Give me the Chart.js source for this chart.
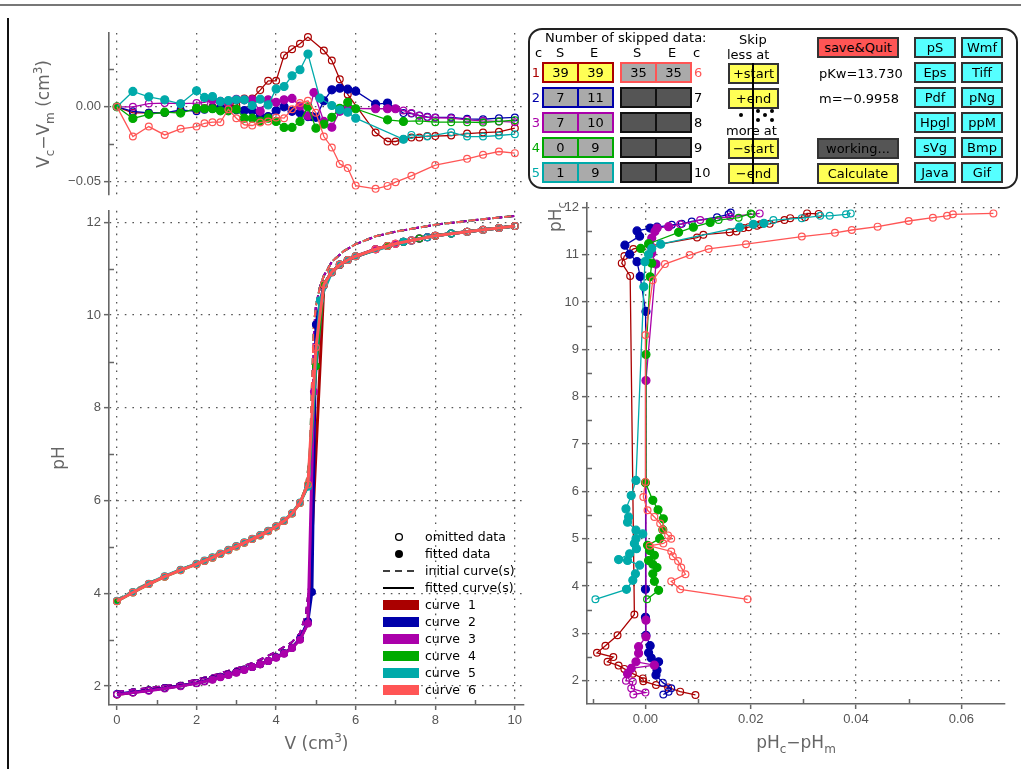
<!DOCTYPE html>
<html>
<head>
<meta charset="utf-8">
<title>Titration fit</title>
<script src="https://cdn.jsdelivr.net/npm/chart.js@4.4.1/dist/chart.umd.min.js"></script>
<style>
  html, body { margin: 0; padding: 0; background: #fff; }
  body { position: relative; width: 1021px; height: 769px; overflow: hidden; font-family: 'DejaVu Sans', sans-serif; }
  canvas { position: absolute; }
  .frame-top { position: absolute; left: 0; top: 4px; width: 1021px; border-top: 2px solid #777; }
  .frame-left { position: absolute; left: 7px; top: 18px; height: 760px; border-left: 2px solid #111; }
  .panel { position: absolute; left: 528px; top: 28px; width: 490px; height: 161px; box-sizing: border-box;
           border: 2px solid #222; border-radius: 14px; }
  .t { position: absolute; font-size: 13px; color: #000; white-space: nowrap; line-height: 1; }
  .btn { position: absolute; box-sizing: border-box; border: 2px solid #333; height: 21px; font-size: 13px;
         text-align: center; line-height: 17px; color: #000; white-space: nowrap; }
  .pair { position: absolute; box-sizing: border-box; border: 2px solid; height: 21px; width: 72px; display: flex; }
  .pair span { flex: 1; text-align: center; font-size: 13px; line-height: 17px; color: #000; }
  .pair span + span { border-left: 2px solid; border-left-color: inherit; }
  .dot { position: absolute; width: 4px; height: 4px; border-radius: 2px; background: #000; }
</style>
</head>
<body>
<div class="frame-top"></div>
<div class="frame-left"></div>
<canvas id="resChart" width="540" height="195" style="left:0;top:15px"></canvas>
<canvas id="mainChart" width="540" height="569" style="left:0;top:200px"></canvas>
<canvas id="devChart" width="481" height="579" style="left:540px;top:190px"></canvas>
<div class="panel"></div>

<script>
// ---- data -----------------------------------------------------------------
const curveLabels = ['curve  1', 'curve  2', 'curve  3', 'curve  4', 'curve  5', 'curve  6'];
const curveColors = ['#aa0000', '#0000aa', '#aa00aa', '#00aa00', '#00aaaa', '#ff5555'];
const skipStart = [39, 7, 7, 0, 1, 35];
const skipEnd = [39, 11, 10, 9, 9, 35];

// titrant volume (cm3) of the measured points
const volume = [0, 0.4, 0.8, 1.2, 1.6, 2.0, 2.2, 2.4, 2.6, 2.8, 3.0, 3.2, 3.4, 3.6, 3.8, 4.0, 4.2, 4.4, 4.6, 4.8,
  4.9, 4.95, 5.0, 5.1,
  5.2, 5.4, 5.6, 5.8, 6.0, 6.5, 6.8, 7.0, 7.2, 7.4, 7.6, 7.8, 8.0, 8.4, 8.8, 9.2, 9.6, 10.0];

// measured pH per curve (null = no point at that volume)
const pH1 = [1.82, 1.86, 1.91, 1.96, 2.01, 2.07, 2.11, 2.15, 2.20, 2.25, 2.30, 2.36, 2.41, 2.47, 2.54, 2.62, 2.71, 2.83, 3.01, 3.37,
  null, null, null, null,
  10.64, 10.92, 11.08, 11.19, null, 11.42, 11.49, 11.54, 11.58, 11.61, 11.65, 11.68, 11.71, 11.76, 11.80, 11.84, 11.88, 11.92];
const pH2 = [1.83, 1.87, 1.91, 1.96, 2.01, 2.07, 2.11, 2.15, 2.20, 2.25, 2.30, 2.36, 2.41, 2.47, 2.54, 2.62, 2.71, 2.83, 3.02, 3.40,
  4.03, null, 9.80, null,
  10.66, 10.93, 11.09, 11.19, 11.27, 11.42, 11.49, null, 11.58, 11.61, 11.65, 11.68, 11.71, 11.76, 11.80, 11.84, 11.88, 11.92];
const pH3 = [1.82, 1.86, 1.90, 1.95, 2.00, 2.06, 2.10, 2.14, 2.19, 2.24, 2.29, 2.35, 2.41, 2.47, 2.54, 2.61, 2.70, 2.82, 3.00, 3.35,
  null, 8.35, null, null,
  10.66, 10.93, 11.09, 11.19, null, 11.42, 11.49, 11.54, 11.58, 11.61, 11.65, 11.68, 11.71, 11.76, 11.80, 11.84, 11.88, 11.92];
const pH4 = [3.83, 4.02, 4.20, 4.36, 4.50, 4.63, 4.70, 4.77, 4.85, 4.93, 5.01, 5.09, 5.17, 5.25, 5.34, 5.44, 5.56, 5.72, 5.95, 6.33,
  null, null, 8.90, null,
  10.66, 10.93, 11.09, 11.19, 11.27, null, 11.49, null, 11.58, null, 11.65, null, 11.71, 11.76, 11.80, 11.84, 11.88, 11.92];
const pH5 = [3.84, 4.03, 4.21, 4.37, 4.51, 4.64, 4.71, 4.78, 4.86, 4.94, 5.02, 5.10, 5.18, 5.26, 5.35, 5.45, 5.57, 5.73, 5.96, 6.30,
  null, null, null, 10.32,
  null, 10.93, 11.09, 11.19, 11.27, null, null, null, 11.58, 11.61, null, 11.68, null, 11.76, 11.80, 11.84, 11.88, 11.92];
const pH6 = [3.83, 4.02, 4.20, 4.36, 4.50, 4.63, 4.70, 4.77, 4.85, 4.93, 5.01, 5.09, 5.17, 5.25, 5.34, 5.44, 5.56, 5.72, 5.95, 6.35,
  null, null, 9.30, null,
  10.66, 10.93, 11.09, 11.19, 11.27, 11.42, 11.49, 11.54, null, 11.61, null, null, 11.71, null, 11.80, 11.84, 11.88, 11.92];

// volume residuals Vc - Vm (cm3)
const dV1 = [0, -0.004, -0.004, -0.004, -0.003, -0.002, -0.001, 0.000, 0.000, 0.001, 0.001, 0.0056, 0.0056, 0.0112, 0.0174, 0.0174, 0.0344, 0.0386, 0.0422, 0.0467,
  null, null, null, null,
  0.0377, 0.0310, 0.0185, 0.0083, null, -0.0172, -0.0232, -0.0232, -0.0217, -0.0205, -0.0205, -0.0196, -0.0196, -0.0192, -0.0179, -0.0172, -0.0167, -0.0143];
const dV2 = [0, -0.003, -0.004, -0.004, -0.002, -0.003, -0.002, -0.001, -0.001, -0.0013, -0.002, -0.0025, -0.0027, -0.006, -0.0065, -0.0027, 0.000, -0.003, -0.004, -0.0065,
  -0.0065, null, -0.007, null,
  0.0040, 0.0114, 0.0125, 0.0118, 0.0105, 0.0018, 0.0025, null, -0.0042, -0.0045, -0.0058, -0.0067, -0.0071, -0.0071, -0.0080, -0.0083, -0.0076, -0.0071];
const dV3 = [0, 0.000, 0.0022, 0.0025, 0.0022, 0.0025, 0.003, 0.0045, 0.0036, 0.003, 0.005, 0.0047, 0.0047, -0.003, 0.0047, 0.003, 0.0047, 0.0056, 0.0005, -0.006,
  null, 0.0096, null, null,
  -0.0098, -0.0136, -0.003, -0.001, null, -0.0013, -0.0013, -0.0013, -0.0025, -0.0042, -0.006, -0.007, -0.0073, -0.0076, -0.0087, -0.0094, -0.0098, -0.0103];
const dV4 = [0, -0.0078, -0.005, -0.0036, -0.0042, -0.001, -0.0013, -0.0013, -0.0027, -0.0027, -0.0016, -0.0076, -0.0076, -0.0096, -0.0076, -0.0098, -0.0138, -0.0138, -0.0098, 0.000,
  null, null, -0.0143, null,
  -0.0116, -0.007, -0.001, 0.003, -0.0013, null, -0.0087, null, -0.0098, null, -0.0094, null, -0.0103, -0.0103, -0.0103, -0.0105, -0.0098, -0.0089];
const dV5 = [0, 0.0103, 0.0067, 0.0047, 0.002, 0.0107, 0.0063, 0.0069, 0.0036, 0.0042, 0.0047, 0.0047, 0.0009, 0.0051, 0.0013, 0.012, 0.0136, 0.0208, 0.0248, 0.0353,
  null, null, null, 0.0058,
  null, 0.0009, -0.002, -0.0036, -0.0076, null, null, null, -0.0217, -0.0188, null, -0.0199, null, -0.017, -0.0199, -0.0199, -0.0192, -0.0183];
const dV6 = [0, -0.0199, -0.0132, -0.0188, -0.0147, -0.0132, -0.011, -0.0103, -0.0103, -0.0016, -0.0076, -0.012, -0.0125, -0.0105, -0.0098, -0.0071, -0.0076, -0.0016, 0.0025, 0.004,
  null, null, -0.004, null,
  -0.0199, -0.0272, -0.0382, -0.041, -0.0527, -0.0549, -0.0529, -0.0504, null, -0.0462, null, null, -0.039, null, -0.0348, -0.0321, -0.0299, -0.031];

// initial (unfitted) model curves
const initVolume = [0, 0.5, 1, 1.5, 2, 2.5, 3, 3.5, 4, 4.4, 4.6, 4.75, 4.85, 4.9, 4.95, 5.0, 5.1, 5.2, 5.4, 5.7, 6, 6.5, 7, 8, 9, 10];
const initStrong = [1.88, 1.93, 1.98, 2.04, 2.14, 2.25, 2.38, 2.53, 2.74, 2.95, 3.14, 3.55, 4.3, 6.5, 9.6, 10.2, 10.6, 10.85, 11.15, 11.38, 11.53, 11.7, 11.8, 11.95, 12.05, 12.14];
const initWeak = [3.86, 4.1, 4.3, 4.48, 4.65, 4.84, 5.03, 5.23, 5.46, 5.74, 5.97, 6.3, 7.0, 8.5, 9.8, 10.2, 10.6, 10.85, 11.15, 11.38, 11.53, 11.7, 11.8, 11.95, 12.05, 12.14];

// pH residuals pHc - pHm against calculated pH
const dev1 = [0.0095, 0.0066, 0.0043, 0.0020, -0.0004, -0.0005, -0.0024, -0.0040, -0.0051, -0.0072, -0.0061, -0.0092, -0.0076, -0.0053, -0.0021,
  -0.0029, -0.0045, -0.0040, -0.0023, 0.0098, 0.0110, 0.0160, 0.0173, 0.0186, 0.0196, 0.0212, 0.0218, 0.0236, 0.0264, 0.0275, 0.0303, 0.0307, 0.0329];
const pHc1 = [1.70, 1.77, 1.86, 1.91, 1.99, 2.05, 2.15, 2.25, 2.32, 2.40, 2.50, 2.59, 2.74, 2.96, 3.40,
  10.55, 10.82, 10.97, 11.12, 11.36, 11.42, 11.47, 11.49, 11.56, 11.58, 11.61, 11.64, 11.65, 11.73, 11.77, 11.79, 11.87, 11.86];
const dev2 = [0.0034, 0.0044, 0.0049, 0.0033, 0.0020, 0.0022, 0.0025, 0.0011, 0.0006, 0.0009, 0.0001, 0.0000, 0.0000,
  0.0001, -0.0010, -0.0016, -0.0030, -0.0039, -0.0011, -0.0016, 0.0009, 0.0022, 0.0050, 0.0069, 0.0088, 0.0136, 0.0158, 0.0162];
const pHc2 = [1.71, 1.77, 1.84, 1.96, 2.12, 2.22, 2.40, 2.48, 2.59, 2.74, 2.96, 3.34, 3.93,
  9.80, 10.54, 10.85, 11.01, 11.20, 11.39, 11.50, 11.56, 11.58, 11.63, 11.65, 11.70, 11.79, 11.85, 11.89];
const dev3 = [-0.0023, 0.0000, -0.0027, -0.0024, -0.0037, -0.0034, -0.0027, 0.0017, -0.0018, -0.0013, -0.0013, 0.0001, 0.0001,
  0.0001, 0.0020, 0.0012, 0.0009, 0.0012, 0.0018, 0.0022, 0.0044, 0.0066, 0.0104, 0.0161, 0.0217];
const pHc3 = [1.71, 1.75, 1.84, 1.98, 2.00, 2.15, 2.26, 2.33, 2.40, 2.58, 2.72, 2.93, 3.28,
  8.34, 10.80, 11.03, 11.20, 11.35, 11.49, 11.56, 11.59, 11.64, 11.73, 11.80, 11.87];
const dev4 = [0.0003, 0.0025, 0.0017, 0.0014, 0.0022, 0.0014, 0.0006, 0.0017, 0.0008, 0.0004, 0.0027, 0.0033, 0.0034, 0.0024, 0.0014, 0.0000,
  0.0001, 0.0009, 0.0012, -0.0009, 0.0006, 0.0063, 0.0091, 0.0123, 0.0139, 0.0177, 0.0200, 0.0202];
const pHc4 = [3.72, 3.91, 4.10, 4.26, 4.39, 4.46, 4.54, 4.65, 4.75, 4.86, 5.00, 5.19, 5.42, 5.61, 5.81, 6.18,
  8.89, 10.53, 10.82, 11.13, 11.23, 11.47, 11.58, 11.68, 11.73, 11.78, 11.87, 11.85];
const dev5 = [-0.0095, -0.0036, -0.0024, -0.0019, -0.0011, -0.0034, -0.0051, -0.0030, -0.0017, -0.0021, -0.0018, -0.0005, -0.0018, -0.0034, -0.0032, -0.0037, -0.0027, -0.0018,
  -0.0003, -0.0001, 0.0006, 0.0012, 0.0029, 0.0179, 0.0205, 0.0225, 0.0243, 0.0297, 0.0332, 0.0350, 0.0381, 0.0390];
const pHc5 = [3.72, 3.93, 4.12, 4.26, 4.44, 4.54, 4.56, 4.68, 4.79, 4.90, 5.00, 5.10, 5.18, 5.35, 5.46, 5.63, 5.91, 6.23,
  10.32, 10.85, 11.00, 11.13, 11.22, 11.58, 11.64, 11.66, 11.73, 11.77, 11.82, 11.82, 11.85, 11.87];
const dev6 = [0.0194, 0.0066, 0.0049, 0.0076, 0.0068, 0.0062, 0.0052, 0.0049, 0.0008, 0.0034, 0.0049, 0.0043, 0.0033, 0.0028, 0.0017, 0.0004, -0.0004, 0.0000,
  0.0000, 0.0014, 0.0037, 0.0084, 0.0120, 0.0191, 0.0297, 0.0360, 0.0392, 0.0441, 0.0500, 0.0546, 0.0573, 0.0584, 0.0661];
const pHc6 = [3.72, 3.93, 4.10, 4.25, 4.39, 4.53, 4.63, 4.73, 4.85, 4.90, 5.00, 5.07, 5.19, 5.32, 5.46, 5.60, 5.88, 6.20,
  9.30, 10.46, 10.80, 10.99, 11.12, 11.22, 11.38, 11.46, 11.52, 11.59, 11.71, 11.78, 11.82, 11.85, 11.87];

// axis ticks
const volumeTicks = [0, 2, 4, 6, 8, 10];
const volumeMinor = [1, 3, 5, 7, 9];
const pHTicks = [2, 4, 6, 8, 10, 12];
const pHMinor = [3, 5, 7, 9, 11];
const resTicks = [-0.05, 0];
const resMinor = [-0.025, 0.025];
const devTicks = [0, 0.02, 0.04, 0.06];
const devMinor = [-0.01, 0.01, 0.03, 0.05];
const pHcTicks = [2, 3, 4, 5, 6, 7, 8, 9, 10, 11, 12];
const pHcMinor = [2.5, 3.5, 4.5, 5.5, 6.5, 7.5, 8.5, 9.5, 10.5, 11.5];

// control panel
const cellColors = { selected: '#ffff55', used: '#aaaaaa', empty: '#555555' };
const skipButtons = ['+start', '+end', '−start', '−end'];
const exportButtons = [['pS', 'Wmf'], ['Eps', 'Tiff'], ['Pdf', 'pNg'], ['Hpgl', 'ppM'], ['sVg', 'Bmp'], ['Java', 'Gif']];
const pKw = '13.730';
const slope = '−0.9958';

// ---- helpers --------------------------------------------------------------
const pHs = [pH1, pH2, pH3, pH4, pH5, pH6];
const dVs = [dV1, dV2, dV3, dV4, dV5, dV6];
const devs = [dev1, dev2, dev3, dev4, dev5, dev6];
const pHcs = [pHc1, pHc2, pHc3, pHc4, pHc5, pHc6];

const isOmitted = (k, i) => i < skipStart[k] || i >= volume.length - skipEnd[k];

// pH span covered by the fitted points of a curve
function fittedRange(k) {
  let lo = Infinity, hi = -Infinity;
  pHs[k].forEach((p, i) => {
    if (p == null || isOmitted(k, i)) return;
    lo = Math.min(lo, p); hi = Math.max(hi, p);
  });
  return [lo - 0.1, hi + 0.1];
}

function pointsFrom(xs, ys, k) {
  const out = [];
  xs.forEach((x, i) => {
    if (ys[i] == null) return;
    out.push({ x: x, y: ys[i], fit: !isOmitted(k, i) });
  });
  return out;
}

const tickFont = { family: "'Liberation Sans', sans-serif", size: 13 };
const axisColor = '#666';
const gridColor = '#555';
const labelColor = '#555';
const titleFont = "17px 'DejaVu Sans', sans-serif";
const titleSmall = "12px 'DejaVu Sans', sans-serif";

function axis(o) {
  return {
    type: 'linear',
    min: o.min,
    max: o.max,
    afterBuildTicks: s => { s.ticks = o.ticks.map(v => ({ value: v })); },
    afterFit: s => { if (o.vertical) s.width = o.size; else s.height = o.size; },
    grid: {
      drawTicks: o.labels !== false,
      color: gridColor, lineWidth: 1.3,
      tickLength: 5, tickColor: axisColor, tickWidth: 1.5
    },
    border: { display: o.border !== false, color: axisColor, width: 1.6, dash: [1.6, 6] },
    ticks: {
      display: o.labels !== false, autoSkip: false, maxRotation: 0,
      color: labelColor, font: tickFont, padding: 3,
      callback: o.fmt || (v => String(v))
    }
  };
}

const pointStyle = color => ({
  borderColor: color,
  pointBorderColor: color,
  pointBackgroundColor: c => (c.raw && c.raw.fit ? color : 'rgba(255,255,255,0)'),
  pointRadius: c => (c.raw && c.raw.fit ? 4 : 3.4),
  pointBorderWidth: 1.2
});

// minor tick marks drawn inward from the axis lines
function minorTicks(xs, ys) {
  return {
    id: 'minorTicks',
    afterDraw(chart) {
      const { ctx, chartArea: a, scales } = chart;
      ctx.save();
      ctx.strokeStyle = axisColor;
      ctx.lineWidth = 1.5;
      ctx.beginPath();
      xs.forEach(v => {
        const px = Math.round(scales.x.getPixelForValue(v)) + 0.5;
        ctx.moveTo(px, a.bottom); ctx.lineTo(px, a.bottom - 5);
      });
      ys.forEach(v => {
        const py = Math.round(scales.y.getPixelForValue(v)) + 0.5;
        ctx.moveTo(a.left, py); ctx.lineTo(a.left + 5, py);
      });
      ctx.stroke();
      ctx.restore();
    }
  };
}

// axis titles with sub/superscripts; parts are [text, 'sub'|'sup'|'']
function drawRich(ctx, parts, x, y, rotate) {
  ctx.save();
  ctx.translate(x, y);
  if (rotate) ctx.rotate(-Math.PI / 2);
  ctx.fillStyle = '#666';
  ctx.textBaseline = 'alphabetic';
  let w = 0;
  parts.forEach(p => { ctx.font = p[1] ? titleSmall : titleFont; w += ctx.measureText(p[0]).width; });
  let cx = -w / 2;
  parts.forEach(p => {
    ctx.font = p[1] ? titleSmall : titleFont;
    const dy = p[1] === 'sub' ? 5 : p[1] === 'sup' ? -7 : 0;
    ctx.fillText(p[0], cx, 6 + dy);
    cx += ctx.measureText(p[0]).width;
  });
  ctx.restore();
}

function axisTitles(items) {
  return {
    id: 'axisTitles',
    afterDraw(chart) {
      const a = chart.chartArea;
      items.forEach(it => {
        const p = it.at(a);
        drawRich(chart.ctx, it.parts, p.x, p.y, it.rotate);
      });
    }
  };
}

// legend block in the lower right of the titration plot
const legendPlugin = {
  id: 'curveLegend',
  afterDraw(chart) {
    const { ctx, chartArea: a } = chart;
    const x0 = a.right - 141, tx = a.right - 99;
    let y = a.bottom - 168;
    const step = 17;
    ctx.save();
    ctx.font = "12.5px 'DejaVu Sans', sans-serif";
    ctx.textBaseline = 'middle';
    ctx.fillStyle = '#000';
    ctx.strokeStyle = '#000';
    const row = (label, draw) => { draw(y); ctx.fillStyle = '#000'; ctx.fillText(label, tx, y + 1); y += step; };
    row('omitted data', yy => { ctx.lineWidth = 1.3; ctx.beginPath(); ctx.arc(x0 + 16, yy, 3.4, 0, Math.PI * 2); ctx.stroke(); });
    row('fitted data', yy => { ctx.beginPath(); ctx.arc(x0 + 16, yy, 4, 0, Math.PI * 2); ctx.fill(); });
    row('initial curve(s)', yy => {
      ctx.lineWidth = 1.6; ctx.setLineDash([7, 5]); ctx.beginPath(); ctx.moveTo(x0, yy); ctx.lineTo(x0 + 31, yy); ctx.stroke(); ctx.setLineDash([]);
    });
    row('fitted curve(s)', yy => { ctx.lineWidth = 2; ctx.beginPath(); ctx.moveTo(x0, yy); ctx.lineTo(x0 + 31, yy); ctx.stroke(); });
    curveLabels.forEach((lab, k) => {
      row(lab, yy => { ctx.fillStyle = curveColors[k]; ctx.fillRect(x0, yy - 5, 36, 10); });
    });
    ctx.restore();
  }
};

const baseOptions = padding => ({
  responsive: false,
  animation: false,
  events: [],
  layout: { padding },
  plugins: { legend: { display: false }, tooltip: { enabled: false } },
  elements: { line: { tension: 0 } }
});

const order = k => 6 - k;

// ---- volume residual plot -------------------------------------------------
new Chart(document.getElementById('resChart'), {
  type: 'line',
  data: {
    datasets: curveColors.map((color, k) => Object.assign({
      data: pointsFrom(volume, dVs[k], k),
      borderWidth: 1.3,
      order: order(k)
    }, pointStyle(color)))
  },
  options: Object.assign(baseOptions({ left: 0, right: 16, top: 18, bottom: 15 }), {
    scales: {
      x: axis({ min: -0.2, max: 10.23, ticks: volumeTicks, size: 0, labels: false, border: false }),
      y: axis({ min: -0.059, max: 0.0494, ticks: resTicks, size: 109, vertical: true,
                fmt: v => (v === 0 ? '0.00' : v.toFixed(2).replace('-', '−')) })
    }
  }),
  plugins: [
    minorTicks([], resMinor),
    axisTitles([{ parts: [['V', ''], ['c', 'sub'], ['−V', ''], ['m', 'sub'], [' (cm', ''], ['3', 'sup'], [')', '']],
                  rotate: true, at: a => ({ x: a.left - 66, y: (a.top + a.bottom) / 2 }) }])
  ]
});

// ---- titration curves -----------------------------------------------------
const mainSets = [];
curveColors.forEach((color, k) => {
  mainSets.push({
    data: initVolume.map((v, i) => ({ x: v, y: (k < 3 ? initStrong : initWeak)[i] })),
    borderColor: color,
    borderWidth: 2,
    borderDash: [7, 5],
    pointRadius: 0,
    order: 12 - k
  });
  mainSets.push(Object.assign({
    data: pointsFrom(volume, pHs[k], k),
    borderWidth: 3,
    order: order(k)
  }, pointStyle(color), { pointRadius: 3.4 }));
});

new Chart(document.getElementById('mainChart'), {
  type: 'line',
  data: { datasets: mainSets },
  options: Object.assign(baseOptions({ left: 0, right: 16, top: 8, bottom: 34 }), {
    scales: {
      x: axis({ min: -0.2, max: 10.23, ticks: volumeTicks, size: 30 }),
      y: axis({ min: 1.593, max: 12.25, ticks: pHTicks, size: 109, vertical: true })
    }
  }),
  plugins: [
    minorTicks(volumeMinor, pHMinor),
    legendPlugin,
    axisTitles([
      { parts: [['pH', '']], rotate: true, at: a => ({ x: a.left - 51, y: (a.top + a.bottom) / 2 }) },
      { parts: [['V (cm', ''], ['3', 'sup'], [')', '']], rotate: false, at: a => ({ x: (a.left + a.right) / 2, y: a.bottom + 38 }) }
    ])
  ]
});

// ---- pH residual plot -----------------------------------------------------
new Chart(document.getElementById('devChart'), {
  type: 'line',
  data: {
    datasets: curveColors.map((color, k) => {
      const [lo, hi] = fittedRange(k);
      const pts = devs[k].map((d, i) => ({ x: d, y: pHcs[k][i], fit: pHcs[k][i] >= lo && pHcs[k][i] <= hi }));
      return Object.assign({ data: pts, borderWidth: 1.3, order: order(k) }, pointStyle(color));
    })
  },
  options: Object.assign(baseOptions({ left: 0, right: 16, top: 13, bottom: 35 }), {
    scales: {
      x: axis({ min: -0.0111, max: 0.0683, ticks: devTicks, size: 30, fmt: v => v.toFixed(2) }),
      y: axis({ min: 1.509, max: 12.09, ticks: pHcTicks, size: 47, vertical: true })
    }
  }),
  plugins: [
    minorTicks(devMinor, pHcMinor),
    axisTitles([
      { parts: [['pH', ''], ['c', 'sub']], rotate: true, at: a => ({ x: a.left - 32, y: a.top + 14 }) },
      { parts: [['pH', ''], ['c', 'sub'], ['−pH', ''], ['m', 'sub']], rotate: false, at: a => ({ x: (a.left + a.right) / 2, y: a.bottom + 38 }) }
    ])
  ]
});

// ---- control panel --------------------------------------------------------
function put(cls, text, css) {
  const d = document.createElement('div');
  d.className = cls;
  if (text != null) d.textContent = text;
  Object.assign(d.style, css);
  document.body.appendChild(d);
  return d;
}
function pair(left, top, border, bg, values) {
  const d = put('pair', null, { left: left + 'px', top: top + 'px', borderColor: border });
  values.forEach(v => {
    const s = document.createElement('span');
    s.textContent = v;
    s.style.background = bg;
    s.style.borderLeftColor = border;
    d.appendChild(s);
  });
}

put('t', 'Number of skipped data:', { left: '545px', top: '31px' });
[['c', 535], ['S', 556], ['E', 590], ['S', 633], ['E', 668], ['c', 693]].forEach(([s, x]) => put('t', s, { left: x + 'px', top: '46px' }));

const rowTops = [62, 87, 112, 137, 162];
rowTops.forEach((top, r) => {
  pair(542, top, curveColors[r], r === 0 ? cellColors.selected : cellColors.used, [skipStart[r], skipEnd[r]]);
  put('t', String(r + 1), { left: '527px', width: '13px', textAlign: 'right', top: (top + 4) + 'px', color: curveColors[r] });
  if (r === 0) pair(620, top, curveColors[5], cellColors.used, [skipStart[5], skipEnd[5]]);
  else pair(620, top, '#111', cellColors.empty, ['', '']);
  put('t', String(r + 6), { left: '694px', top: (top + 4) + 'px', color: r === 0 ? curveColors[5] : '#000' });
});

put('t', 'Skip', { left: '739px', top: '33px' });
put('t', 'less at', { left: '727px', top: '48px' });
put('t', 'more at', { left: '726px', top: '124px' });
[63, 88, 138, 163].forEach((top, i) => put('btn', skipButtons[i], { left: '728px', top: top + 'px', width: '51px', background: '#ffff55' }));
put('t', '', { left: '752px', top: '63px', width: '2px', height: '121px', background: '#000' });
[[739, 113], [756, 109], [770, 109], [763, 113], [756, 118], [770, 118]].forEach(([x, y]) => put('dot', null, { left: x + 'px', top: y + 'px' }));

put('btn', 'save&Quit', { left: '817px', top: '37px', width: '82px', background: '#ff5555' });
put('t', 'pKw=' + pKw, { left: '819px', top: '67px' });
put('t', 'm=' + slope, { left: '819px', top: '92px' });
put('btn', 'working...', { left: '817px', top: '138px', width: '82px', background: '#555555' });
put('btn', 'Calculate', { left: '817px', top: '163px', width: '82px', background: '#ffff55' });

exportButtons.forEach((labels, r) => {
  labels.forEach((lab, c) => put('btn', lab, { left: (c ? 961 : 914) + 'px', top: (37 + 25 * r) + 'px', width: '42px', background: '#55ffff' }));
});
</script>
</body>
</html>
